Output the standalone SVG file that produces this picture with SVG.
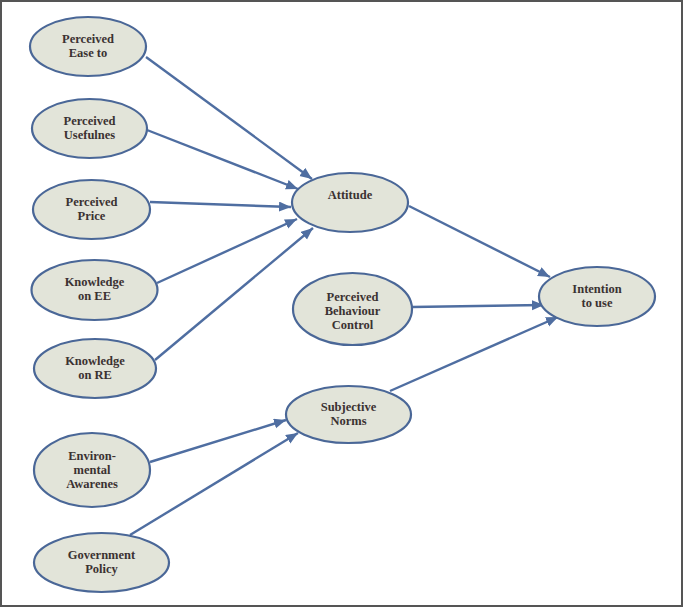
<svg xmlns="http://www.w3.org/2000/svg" width="685" height="608" viewBox="0 0 685 608">
<style>
.n ellipse{fill:#e2e4d9;stroke:#4a6797;stroke-width:2.2}
.n text{font-family:"Liberation Serif","Times New Roman",serif;font-weight:bold;font-size:12.5px;fill:#3b3232;text-anchor:middle}
.c line{stroke:#4f6ea1;stroke-width:2.4}
</style>
<defs>
<marker id="ah" markerUnits="userSpaceOnUse" markerWidth="14" markerHeight="12" refX="12" refY="5" orient="auto">
<path d="M0,0 L12,5 L0,10 Z" fill="#4f6ea1"/>
</marker>
</defs>
<rect x="1" y="1" width="681" height="605" fill="#fff" stroke="#555" stroke-width="2"/>
<g class="c">
<line x1="146" y1="57" x2="312" y2="179" marker-end="url(#ah)"/>
<line x1="147" y1="130" x2="298" y2="189" marker-end="url(#ah)"/>
<line x1="150" y1="202" x2="291" y2="207" marker-end="url(#ah)"/>
<line x1="157" y1="283" x2="297" y2="219" marker-end="url(#ah)"/>
<line x1="155" y1="360" x2="313" y2="228" marker-end="url(#ah)"/>
<line x1="409" y1="206" x2="550" y2="277" marker-end="url(#ah)"/>
<line x1="412" y1="307" x2="544" y2="305" marker-end="url(#ah)"/>
<line x1="390" y1="391" x2="558" y2="317" marker-end="url(#ah)"/>
<line x1="150" y1="462" x2="286" y2="420" marker-end="url(#ah)"/>
<line x1="130" y1="535" x2="298" y2="433" marker-end="url(#ah)"/>
</g>
<g id="peou" class="n"><ellipse cx="88" cy="46.5" rx="58" ry="29.5"/><text x="88" y="43">Perceived</text><text x="88" y="57">Ease to</text></g>
<g id="pu" class="n"><ellipse cx="89.5" cy="128.5" rx="57.5" ry="29.5"/><text x="89.5" y="125">Perceived</text><text x="89.5" y="139">Usefulnes</text></g>
<g id="pp" class="n"><ellipse cx="91.5" cy="209.5" rx="58.5" ry="29.5"/><text x="91.5" y="206">Perceived</text><text x="91.5" y="220">Price</text></g>
<g id="kee" class="n"><ellipse cx="94.5" cy="290" rx="63" ry="30"/><text x="94.5" y="286">Knowledge</text><text x="94.5" y="300">on EE</text></g>
<g id="kre" class="n"><ellipse cx="95" cy="368.5" rx="61" ry="29.5"/><text x="95" y="365">Knowledge</text><text x="95" y="379">on RE</text></g>
<g id="ea" class="n"><ellipse cx="92" cy="470" rx="58" ry="37"/><text x="92" y="460">Environ-</text><text x="92" y="474">mental</text><text x="92" y="488">Awarenes</text></g>
<g id="gp" class="n"><ellipse cx="101.5" cy="562.5" rx="67.5" ry="29.5"/><text x="101.5" y="559">Government</text><text x="101.5" y="573">Policy</text></g>
<g id="att" class="n"><ellipse cx="350" cy="202.5" rx="58" ry="29.5"/><text x="350" y="199">Attitude</text></g>
<g id="pbc" class="n"><ellipse cx="352.5" cy="309" rx="59.5" ry="36"/><text x="352.5" y="301">Perceived</text><text x="352.5" y="315">Behaviour</text><text x="352.5" y="329">Control</text></g>
<g id="itu" class="n"><ellipse cx="597" cy="296.5" rx="58" ry="29.5"/><text x="597" y="293">Intention</text><text x="597" y="307">to use</text></g>
<g id="sn" class="n"><ellipse cx="348.5" cy="414.5" rx="62.5" ry="28.5"/><text x="348.5" y="411">Subjective</text><text x="348.5" y="425">Norms</text></g>
</svg>
